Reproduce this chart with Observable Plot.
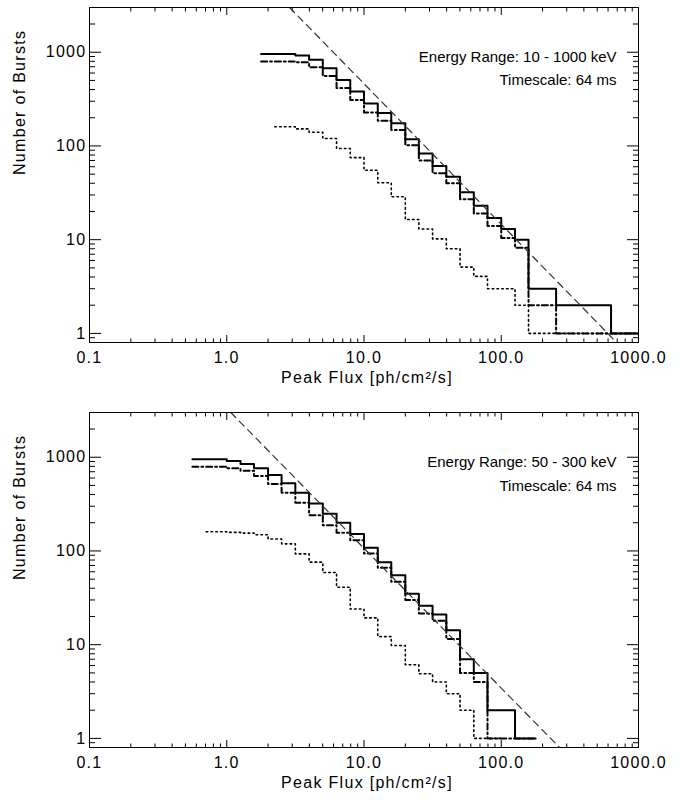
<!DOCTYPE html>
<html>
<head>
<meta charset="utf-8">
<script src="https://cdn.jsdelivr.net/npm/d3@7"></script>
<script src="https://cdn.jsdelivr.net/npm/@observablehq/plot@0.6"></script>
<style>
  html, body { margin: 0; padding: 0; background: #fff; }
  #chart svg { display: block; }
</style>
</head>
<body>
<div id="chart"></div>
<script>
// ---------- tick values & labels ----------
const xTickValues = [0.1, 1, 10, 100, 1000];
const xTickLabels = ["0.1", "1.0", "10.0", "100.0", "1000.0"];
const xMinorTicks = [0.2, 0.3, 0.4, 0.5, 0.6, 0.7, 0.8, 0.9,
                     2, 3, 4, 5, 6, 7, 8, 9,
                     20, 30, 40, 50, 60, 70, 80, 90,
                     200, 300, 400, 500, 600, 700, 800, 900];
const yTickValues = [1, 10, 100, 1000];
const yTickLabels = ["1", "10", "100", "1000"];
const yMinorTicks = [0.9, 2, 3, 4, 5, 6, 7, 8, 9,
                     20, 30, 40, 50, 60, 70, 80, 90,
                     200, 300, 400, 500, 600, 700, 800, 900, 2000];
const xDomain = [0.1, 1000];
const yDomain = [0.8, 3000];

const xTitle = "Peak Flux [ph/cm\u00b2/s]";
const yTitle = "Number of Bursts";

// ---------- top panel (10 - 1000 keV) ----------
const topLabels = ["Energy Range: 10 - 1000 keV", "Timescale: 64 ms"];
const topSolidEdges = [1.78, 3.16, 3.98, 5.01, 6.31, 7.94, 10, 12.6, 15.8, 20, 25.1, 31.6, 39.8, 50.1, 63.1, 79.4, 100, 126, 158, 251, 631, 1000];
const topSolidCounts = [960, 922, 830, 674, 506, 382, 284, 224, 175, 118, 83, 61, 47, 32, 23, 17, 13, 10, 3, 2, 1];
const topDashDotEdges = [1.78, 3.16, 3.98, 5.01, 6.31, 7.94, 10, 12.6, 15.8, 20, 25.1, 31.6, 39.8, 50.1, 63.1, 79.4, 100, 126, 158, 251, 1000];
const topDashDotCounts = [795, 780, 690, 558, 416, 309, 228, 186, 148, 102, 70, 51, 40, 27, 19, 14, 10.4, 8.2, 2, 1];
const topDottedEdges = [2.24, 3.16, 3.98, 5.01, 6.31, 7.94, 10, 12.6, 15.8, 20, 25.1, 31.6, 39.8, 50.1, 63.1, 79.4, 126, 158, 1000];
const topDottedCounts = [160, 152, 140, 120, 94, 75, 55, 40.5, 28.7, 16.4, 13, 10.2, 8, 5.1, 4.06, 3, 2, 1];
const topDashed = [[2.87, 3000], [693, 0.8]];

// ---------- bottom panel (50 - 300 keV) ----------
const bottomLabels = ["Energy Range: 50 - 300 keV", "Timescale: 64 ms"];
const bottomSolidEdges = [0.562, 1.0, 1.26, 1.58, 2.0, 2.51, 3.16, 3.98, 5.01, 6.31, 7.94, 10, 12.6, 15.8, 20, 25.1, 31.6, 39.8, 50.1, 63.1, 79.4, 126, 178];
const bottomSolidCounts = [952, 914, 849, 763, 646, 526, 418, 320, 250, 200, 152, 108, 76, 55, 35, 26, 21, 14.3, 7, 5, 2, 1];
const bottomDashDotEdges = [0.562, 1.0, 1.26, 1.58, 2.0, 2.51, 3.16, 3.98, 5.01, 6.31, 7.94, 10, 12.6, 15.8, 20, 25.1, 31.6, 39.8, 50.1, 63.1, 79.4, 178];
const bottomDashDotCounts = [793, 763, 719, 630, 518, 418, 327, 241, 188, 156, 130, 94, 66, 47, 30, 21.5, 18, 11.5, 5, 4, 1];
const bottomDottedEdges = [0.708, 1.0, 1.26, 1.58, 2.0, 2.51, 3.16, 3.98, 5.01, 6.31, 7.94, 10, 12.6, 15.8, 20, 25.1, 31.6, 39.8, 50.1, 63.1, 100];
const bottomDottedCounts = [160, 158, 155, 149, 134, 119, 93, 76, 59, 41, 24, 19.3, 12.2, 9.8, 6.1, 4.9, 4, 3, 2, 1];
const bottomDashed = [[1.07, 3000], [266, 0.8]];

// ---------- helpers ----------
function steps(edges, counts) {
  return edges.map((e, i) => ({x: e, y: counts[Math.min(i, counts.length - 1)]}));
}
const FONT = "'Liberation Sans', Arial, Helvetica, sans-serif";

function panel(cfg) {
  const fmtX = d => xTickLabels[xTickValues.indexOf(d)];
  const fmtY = d => yTickLabels[yTickValues.indexOf(d)];
  const blank = () => "";
  const svg = Plot.plot({
    width: 685,
    height: cfg.height,
    marginLeft: 89,
    marginRight: 47,
    marginTop: 7,
    marginBottom: cfg.height - 7 - 335,
    style: {fontFamily: FONT, fontSize: "16px", color: "black", background: "white"},
    x: {type: "log", domain: xDomain, axis: null},
    y: {type: "log", domain: yDomain, axis: null},
    marks: [
      // inward ticks on all four sides
      Plot.axisY(yTickValues, {anchor: "left", tickSize: -12, tickFormat: blank, label: null, strokeWidth: 1}),
      Plot.axisY(yMinorTicks, {anchor: "left", tickSize: -6, tickFormat: blank, label: null, strokeWidth: 1}),
      Plot.axisY(yTickValues, {anchor: "right", tickSize: -12, tickFormat: blank, label: null, strokeWidth: 1}),
      Plot.axisY(yMinorTicks, {anchor: "right", tickSize: -6, tickFormat: blank, label: null, strokeWidth: 1}),
      Plot.axisX(xTickValues, {anchor: "bottom", tickSize: -7, tickFormat: blank, label: null, strokeWidth: 1}),
      Plot.axisX(xMinorTicks, {anchor: "bottom", tickSize: -3.5, tickFormat: blank, label: null, strokeWidth: 1}),
      Plot.axisX(xTickValues, {anchor: "top", tickSize: -7, tickFormat: blank, label: null, strokeWidth: 1}),
      Plot.axisX(xMinorTicks, {anchor: "top", tickSize: -3.5, tickFormat: blank, label: null, strokeWidth: 1}),
      // tick labels
      Plot.axisY(yTickValues, {anchor: "left", tickSize: 0, tickPadding: 3, tickFormat: fmtY, label: null, fontSize: 16, fill: "black"}),
      Plot.axisX(xTickValues, {anchor: "bottom", tickSize: 0, tickPadding: 9, tickFormat: fmtX, label: null, fontSize: 16, fill: "black"}),
      // axis titles
      Plot.text([yTitle], {frameAnchor: "left", dx: -70, rotate: -90, fontSize: 16, fill: "black"}),
      Plot.text([xTitle], {frameAnchor: "bottom", dy: 40, dx: 3, fontSize: 16, fill: "black"}),
      // curves
      Plot.line(steps(cfg.dotted[0], cfg.dotted[1]), {x: "x", y: "y", curve: "step-after", stroke: "black", strokeWidth: 1.6, strokeDasharray: "1.6,3.2", clip: true}),
      Plot.line(steps(cfg.dashdot[0], cfg.dashdot[1]), {x: "x", y: "y", curve: "step-after", stroke: "black", strokeWidth: 2, strokeDasharray: "6,3,1.8,3", clip: true}),
      Plot.line(steps(cfg.solid[0], cfg.solid[1]), {x: "x", y: "y", curve: "step-after", stroke: "black", strokeWidth: 2, clip: true}),
      Plot.line(cfg.dashed, {x: d => d[0], y: d => d[1], stroke: "#333", strokeWidth: 1.2, strokeDasharray: "7,5", clip: true}),
      // annotations
      Plot.text([cfg.labels[0]], {frameAnchor: "top-right", textAnchor: "end", dx: -22, dy: 44, fontSize: 15, fill: "black"}),
      Plot.text([cfg.labels[1]], {frameAnchor: "top-right", textAnchor: "end", dx: -22, dy: cfg.dy2, fontSize: 15, fill: "black"}),
      Plot.frame({stroke: "black", strokeWidth: 1})
    ]
  });
  // widen the axis lettering slightly (IDL-like glyph spacing)
  svg.querySelectorAll("text").forEach(t => {
    const s = t.textContent;
    if (!s.startsWith("Energy") && !s.startsWith("Timescale")) t.setAttribute("letter-spacing", "1.3");
  });
  return svg;
}

const root = document.getElementById("chart");
root.appendChild(panel({
  height: 405,
  labels: topLabels,
  dy2: 67,
  solid: [topSolidEdges, topSolidCounts],
  dashdot: [topDashDotEdges, topDashDotCounts],
  dotted: [topDottedEdges, topDottedCounts],
  dashed: topDashed
}));
root.appendChild(panel({
  height: 395,
  labels: bottomLabels,
  dy2: 68,
  solid: [bottomSolidEdges, bottomSolidCounts],
  dashdot: [bottomDashDotEdges, bottomDashDotCounts],
  dotted: [bottomDottedEdges, bottomDottedCounts],
  dashed: bottomDashed
}));
</script>
</body>
</html>
